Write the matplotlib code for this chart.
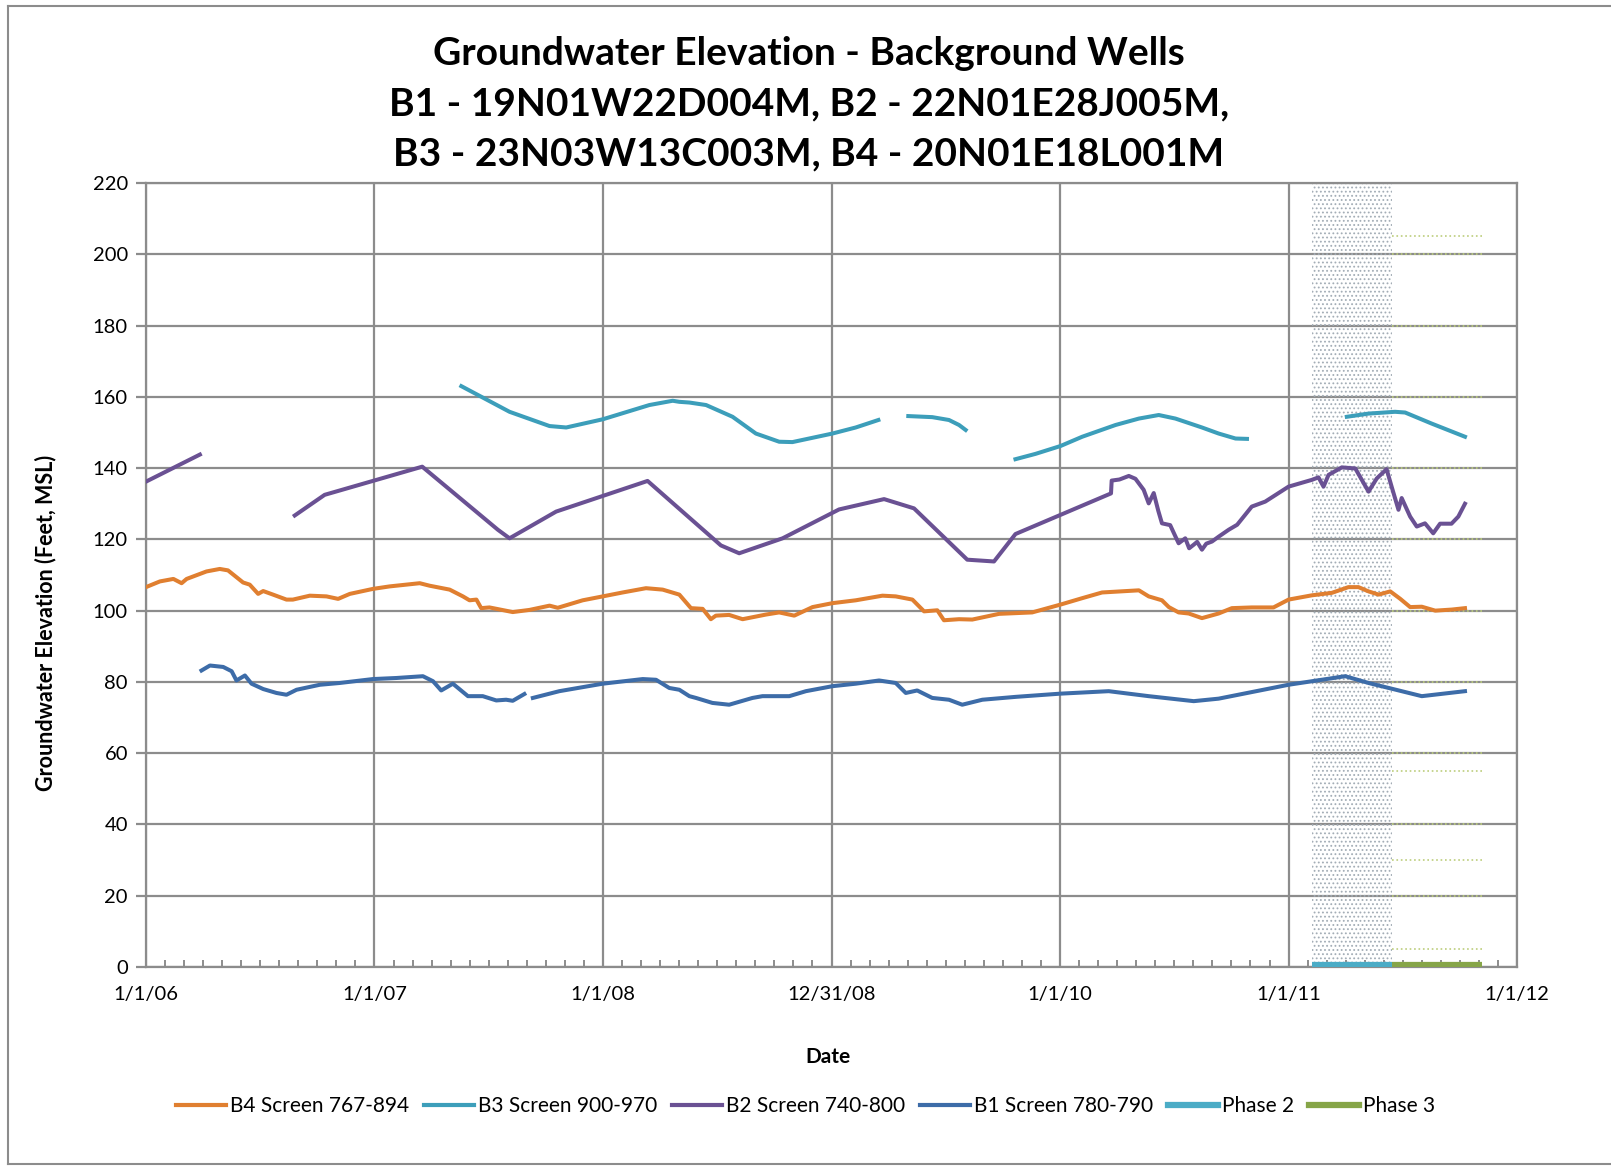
import datetime as dt
import matplotlib
matplotlib.use("Agg")
import matplotlib.pyplot as plt
from matplotlib.lines import Line2D

plt.rcParams['font.family'] = ['Lato', 'DejaVu Sans']
plt.rcParams['hatch.linewidth'] = 0.8

# ---- data (x in decimal years, y in feet MSL) ----
b4_x = [2006.000, 2006.061, 2006.120, 2006.156, 2006.178, 2006.265, 2006.323, 2006.359, 2006.425, 2006.454,
        2006.491, 2006.513, 2006.556, 2006.615, 2006.643, 2006.717, 2006.790, 2006.841, 2006.892, 2006.993,
        2007.066, 2007.198, 2007.241, 2007.329, 2007.387, 2007.416, 2007.446, 2007.467, 2007.503, 2007.605,
        2007.678, 2007.766, 2007.802, 2007.911, 2007.999, 2008.086, 2008.188, 2008.261, 2008.334, 2008.385,
        2008.436, 2008.472, 2008.494, 2008.552, 2008.611, 2008.713, 2008.771, 2008.837, 2008.917, 2009.004,
        2009.106, 2009.223, 2009.281, 2009.354, 2009.405, 2009.463, 2009.492, 2009.558, 2009.616, 2009.733,
        2009.878, 2010.002, 2010.097, 2010.184, 2010.345, 2010.388, 2010.446, 2010.476, 2010.519, 2010.563,
        2010.621, 2010.694, 2010.752, 2010.839, 2010.934, 2011.000, 2011.102, 2011.190, 2011.262, 2011.306,
        2011.350, 2011.394, 2011.445, 2011.489, 2011.532, 2011.583, 2011.642, 2011.714, 2011.772]
b4_y = [106.6, 108.2, 108.9, 107.7, 108.9, 111.0, 111.7, 111.3, 107.9, 107.3,
        104.7, 105.5, 104.5, 103.1, 103.1, 104.2, 104.0, 103.3, 104.7, 106.1,
        106.8, 107.7, 107.0, 105.9, 104.0, 102.9, 103.1, 100.7, 100.9, 99.6,
        100.2, 101.4, 100.8, 102.9, 104.0, 105.1, 106.3, 105.9, 104.5, 100.7,
        100.5, 97.6, 98.6, 98.8, 97.6, 98.9, 99.5, 98.6, 101.0, 102.1,
        102.9, 104.2, 104.0, 103.1, 99.8, 100.1, 97.3, 97.6, 97.5, 99.1,
        99.5, 101.7, 103.5, 105.1, 105.7, 104.0, 102.9, 101.0, 99.5, 99.2,
        97.9, 99.2, 100.7, 100.9, 100.9, 103.1, 104.3, 105.0, 106.6, 106.6,
        105.4, 104.5, 105.4, 103.3, 101.0, 101.1, 100.0, 100.3, 100.7]

b3_x = [[2007.380, 2007.591, 2007.766, 2007.839, 2007.999, 2008.203, 2008.305, 2008.334, 2008.378, 2008.451,
         2008.567, 2008.669, 2008.771, 2008.829, 2009.004, 2009.106, 2009.205],
        [2009.336, 2009.441, 2009.514, 2009.558, 2009.587],
        [2009.805, 2009.893, 2010.002, 2010.097, 2010.243, 2010.345, 2010.432, 2010.505, 2010.621, 2010.694,
         2010.768, 2010.818],
        [2011.255, 2011.350, 2011.466, 2011.510, 2011.626, 2011.772]]
b3_y = [[163.0, 155.8, 151.8, 151.4, 153.7, 157.7, 158.9, 158.6, 158.4, 157.7,
         154.4, 149.7, 147.4, 147.3, 149.7, 151.4, 153.5],
        [154.6, 154.3, 153.5, 152.1, 150.7],
        [142.5, 144.0, 146.2, 148.8, 152.1, 153.9, 154.9, 153.9, 151.4, 149.7,
         148.3, 148.2],
        [154.4, 155.3, 155.8, 155.6, 152.5, 148.8]]

b2_x = [[2006.000, 2006.236],
        [2006.651, 2006.782, 2007.209, 2007.540, 2007.591, 2007.795, 2008.195, 2008.516, 2008.596, 2008.786,
         2009.033, 2009.230, 2009.361, 2009.594, 2009.711, 2009.805, 2010.223, 2010.226, 2010.260, 2010.301,
         2010.330, 2010.366, 2010.388, 2010.410, 2010.430, 2010.446, 2010.482, 2010.500, 2010.519, 2010.548,
         2010.565, 2010.585, 2010.600, 2010.621, 2010.640, 2010.665, 2010.695, 2010.738, 2010.775, 2010.839,
         2010.898, 2011.000, 2011.102, 2011.131, 2011.153, 2011.175, 2011.233, 2011.292, 2011.350, 2011.386,
         2011.429, 2011.451, 2011.481, 2011.495, 2011.532, 2011.561, 2011.597, 2011.633, 2011.663, 2011.713,
         2011.743, 2011.772]]
b2_y = [[136.2, 143.8],
        [126.7, 132.5, 140.4, 122.7, 120.3, 127.8, 136.4, 118.3, 116.1, 120.3,
         128.4, 131.3, 128.7, 114.3, 113.8, 121.5, 132.9, 136.5, 136.8, 137.8,
         137.0, 133.9, 130.1, 133.0, 128.0, 124.5, 124.0, 121.5, 118.9, 120.3,
         117.5, 118.5, 119.3, 117.1, 118.8, 119.4, 120.8, 122.7, 124.1, 129.2,
         130.6, 134.8, 136.7, 137.4, 134.8, 138.1, 140.2, 139.9, 133.4, 137.1,
         139.7, 134.8, 128.3, 131.6, 126.4, 123.6, 124.5, 121.7, 124.4, 124.4,
         126.4, 130.0]]

b1_x = [[2006.243, 2006.280, 2006.338, 2006.375, 2006.396, 2006.433, 2006.462, 2006.513, 2006.571, 2006.615,
         2006.659, 2006.761, 2006.848, 2006.993, 2007.096, 2007.212, 2007.256, 2007.292, 2007.343, 2007.409,
         2007.474, 2007.533, 2007.576, 2007.605, 2007.656],
        [2007.693, 2007.809, 2007.999, 2008.174, 2008.232, 2008.290, 2008.334, 2008.378, 2008.407, 2008.479,
         2008.552, 2008.654, 2008.698, 2008.815, 2008.888, 2009.004, 2009.106, 2009.208, 2009.281, 2009.325,
         2009.375, 2009.441, 2009.514, 2009.572, 2009.660, 2009.805, 2010.000, 2010.213, 2010.388, 2010.585,
         2010.694, 2011.000, 2011.248, 2011.350, 2011.583, 2011.772]]
b1_y = [[83.2, 84.6, 84.2, 83.0, 80.4, 81.8, 79.5, 78.0, 76.9, 76.4,
         77.8, 79.2, 79.7, 80.8, 81.1, 81.6, 80.2, 77.6, 79.5, 76.0,
         76.0, 74.8, 75.0, 74.7, 76.6],
        [75.5, 77.4, 79.5, 80.8, 80.6, 78.3, 77.8, 76.0, 75.5, 74.1,
         73.6, 75.5, 76.0, 76.0, 77.4, 78.8, 79.5, 80.4, 79.7, 76.9,
         77.6, 75.5, 75.0, 73.6, 75.0, 75.8, 76.7, 77.4, 76.0, 74.6,
         75.3, 79.2, 81.6, 79.7, 76.0, 77.4]]

phase2 = [2011.102, 2011.452]
phase3 = [2011.452, 2011.848]
phase3_levels = [205, 200, 180, 160, 140, 120, 100, 80, 60, 55, 40, 30, 20, 5]

title = ("Groundwater Elevation - Background Wells\n"
         "B1 - 19N01W22D004M, B2 - 22N01E28J005M,\n"
         "B3 - 23N03W13C003M, B4 - 20N01E18L001M")
tick_labels = ['1/1/06', '1/1/07', '1/1/08', '12/31/08', '1/1/10', '1/1/11', '1/1/12']

c_b4 = '#E07F30'
c_b3 = '#3C9EBA'
c_b2 = '#6A5193'
c_b1 = '#3D6CA8'
c_p2 = '#4BACC6'
c_p3 = '#86A548'

BASE = dt.datetime(2006, 1, 1)


def to_date(years):
    return [BASE + dt.timedelta(days=(y - 2006) * 365.25) for y in years]


fig = plt.figure(figsize=(16.11, 11.68), dpi=100)
ax = fig.add_axes([0.0906, 0.1721, 0.8511, 0.6712])

# phase shading (dotted)
ax.axvspan(to_date([phase2[0]])[0], to_date([phase2[1]])[0], facecolor='none',
           edgecolor='#a3adb6', hatch='....', linewidth=0, zorder=1)
for lv in phase3_levels:
    ax.hlines(lv, to_date([phase3[0]])[0], to_date([phase3[1]])[0], colors='#bccd7c',
              linestyles=':', linewidth=1.2, zorder=1)

lw = 2.9
ax.plot(to_date(b4_x), b4_y, color=c_b4, lw=lw, zorder=3)
for xs, ys in zip(b3_x, b3_y):
    ax.plot(to_date(xs), ys, color=c_b3, lw=lw, zorder=3)
for xs, ys in zip(b2_x, b2_y):
    ax.plot(to_date(xs), ys, color=c_b2, lw=lw, zorder=3)
for xs, ys in zip(b1_x, b1_y):
    ax.plot(to_date(xs), ys, color=c_b1, lw=lw, zorder=3)
ax.plot(to_date(phase2), [0.5, 0.5], color=c_p2, lw=4.5, solid_capstyle='butt', zorder=4)
ax.plot(to_date(phase3), [0.5, 0.5], color=c_p3, lw=4.5, solid_capstyle='butt', zorder=4)

# axes
ax.set_ylim(0, 220)
ax.set_yticks(range(0, 221, 20))
major = [BASE + dt.timedelta(days=365.25 * k) for k in range(7)]
minor = [BASE + dt.timedelta(days=365.25 * k / 12) for k in range(73)]
ax.set_xlim(major[0], major[-1])
ax.set_xticks(major)
ax.set_xticks(minor, minor=True)
ax.set_xticklabels(tick_labels)
ax.grid(True, which='major', color='#8c8c8c', lw=1.6, zorder=0)
ax.set_axisbelow(True)
for s in ax.spines.values():
    s.set_color('#8c8c8c')
    s.set_linewidth(1.6)
ax.tick_params(axis='y', which='major', length=7, width=1.6, color='#8c8c8c',
               labelsize=14.5, pad=6)
ax.tick_params(axis='x', which='major', length=0, labelsize=14.5, pad=14)
ax.tick_params(axis='x', which='minor', direction='in', length=5, width=1.4, color='#8c8c8c')

fig.text(0.028, 0.467, 'Groundwater Elevation (Feet, MSL)', rotation=90, ha='center',
         va='center', fontsize=15.5, fontweight='bold')
fig.text(0.514, 0.095, 'Date', ha='center', va='center', fontsize=15, fontweight='bold')

fig.text(0.502, 0.911, title, ha='center', va='center', fontsize=28, fontweight='bold',
         linespacing=1.52)

handles = [Line2D([], [], color=c, lw=w) for c, w in
           [(c_b4, 3), (c_b3, 3), (c_b2, 3), (c_b1, 3), (c_p2, 4.5), (c_p3, 4.5)]]
labels = ['B4 Screen 767-894', 'B3 Screen 900-970', 'B2 Screen 740-800',
          'B1 Screen 780-790', 'Phase 2', 'Phase 3']
fig.legend(handles, labels, loc='center', bbox_to_anchor=(0.5, 0.053), ncol=6,
           frameon=False, fontsize=15, handlelength=2.4, handletextpad=0.2, columnspacing=0.7)

# outer chart border
fig.add_artist(Line2D([0.005, 0.005], [0.003, 0.995], color='#8c8c8c', lw=1.5))
fig.add_artist(Line2D([0.005, 1.0], [0.995, 0.995], color='#8c8c8c', lw=1.5))
fig.add_artist(Line2D([0.005, 1.0], [0.003, 0.003], color='#8c8c8c', lw=1.5))

fig.savefig('out.png', dpi=100)
